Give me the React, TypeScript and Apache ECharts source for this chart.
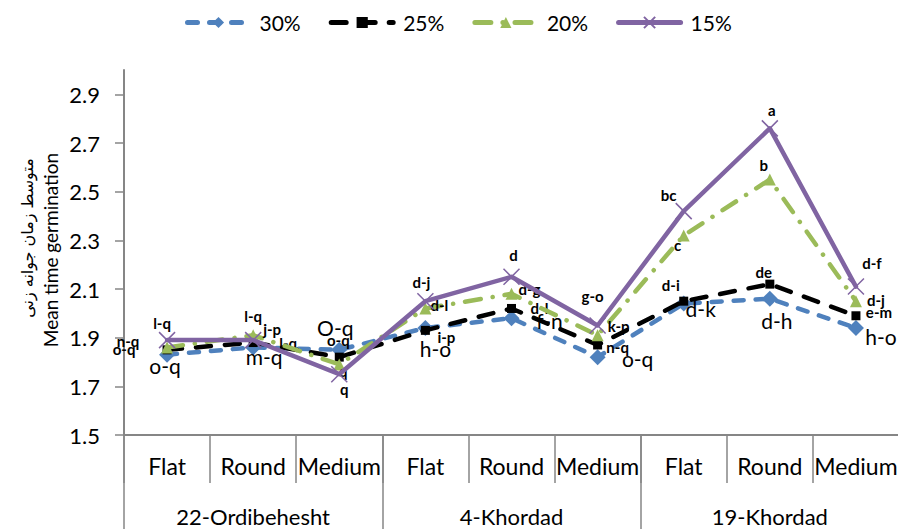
import React, { useEffect, useRef } from "react";
import * as echarts from "echarts";

// ---------- data ----------
const categories = ["Flat", "Round", "Medium", "Flat", "Round", "Medium", "Flat", "Round", "Medium"];
const groups = ["22-Ordibehesht", "4-Khordad", "19-Khordad"];
const yTicks = [1.5, 1.7, 1.9, 2.1, 2.3, 2.5, 2.7, 2.9];
const seriesNames = ["30%", "25%", "20%", "15%"];

const values30 = [1.83, 1.86, 1.85, 1.94, 1.98, 1.82, 2.04, 2.06, 1.94];
const values25 = [1.85, 1.88, 1.82, 1.93, 2.02, 1.87, 2.05, 2.12, 1.99];
const values20 = [1.86, 1.91, 1.79, 2.02, 2.08, 1.91, 2.32, 2.55, 2.05];
const values15 = [1.89, 1.89, 1.75, 2.05, 2.15, 1.95, 2.42, 2.76, 2.11];

const letters30 = ["o-q", "m-q", "O-q", "h-o", "f-n", "o-q", "d-k", "d-h", "h-o"];
const letters25 = ["o-q", "l-q", "o-q", "i-p", "d-l", "n-q", "d-i", "de", "e-m"];
const letters20 = ["n-q", "j-p", "q", "d-l", "d-g", "k-p", "c", "b", "d-j"];
const letters15 = ["l-q", "l-q", "q", "d-j", "d", "g-o", "bc", "a", "d-f"];

// ---------- label layout (offset from marker centre, px) ----------
const offsets30: number[][] = [[-2, 11], [11, 9], [-4, -22], [10, 21], [38, 2], [40, 1], [17, 5], [7, 22], [25, 9]];
const offsets25: number[][] = [[-43, -1], [35, 0], [-1, -17], [21, 7], [28, 0], [20, 2], [-13, -16], [-6, -12], [23, -4]];
const offsets20: number[][] = [[-39, -6], [19, -6], [4, 7], [14, -3], [18, -5], [21, -9], [-6, 10], [-6, -15], [20, -1]];
const offsets15: number[][] = [[-5, -17], [0, -24], [5, 15], [-4, -19], [2, -22], [-5, -30], [-15, -16], [2, -18], [16, -24]];

const BLUE = "#4F81BD";
const BLACK = "#000000";
const GREEN = "#9BBB59";
const PURPLE = "#8064A2";
const AXIS = "#868686";
const FONT = "Lato, 'Open Sans', sans-serif";

function buildData(values: number[], letters: string[], offsets: number[][], big: boolean) {
  return values.map((v, i) => ({
    value: v,
    label: {
      show: true,
      position: "inside",
      formatter: letters[i],
      offset: offsets[i],
      color: "#000",
      fontFamily: FONT,
      fontSize: big ? 21 : 15,
      fontWeight: big ? "normal" : "bold",
    },
  }));
}

export default function App() {
  const ref = useRef<HTMLDivElement>(null);

  useEffect(() => {
    document.body.style.margin = "0";
    if (!ref.current) return;
    const chart = echarts.init(ref.current, undefined, { renderer: "svg" });

    const option: any = {
      animation: false,
      backgroundColor: "#ffffff",
      textStyle: { fontFamily: FONT },
      legend: {
        top: 12,
        left: 185,
        padding: 0,
        itemWidth: 62,
        itemHeight: 14,
        itemGap: 28,
        data: seriesNames,
        lineStyle: { width: 5, cap: "round" },
        textStyle: { fontSize: 21, fontFamily: FONT, color: "#000", padding: [0, 0, 0, 5] },
      },
      grid: {
        left: 124,
        right: -1,
        top: 70,
        bottom: 94,
        containLabel: false,
        outerBoundsMode: "none",
      },
      xAxis: [
        {
          type: "category",
          data: categories,
          position: "bottom",
          boundaryGap: true,
          axisLine: { show: true, lineStyle: { color: AXIS, width: 2 } },
          axisTick: { show: true, interval: 0, length: 48, lineStyle: { color: AXIS, width: 1.5 } },
          axisLabel: {
            interval: 0,
            margin: 31,
            verticalAlign: "middle",
            color: "#000",
            fontSize: 23,
            fontFamily: FONT,
          },
          splitLine: { show: false },
        },
        {
          type: "category",
          data: groups,
          position: "bottom",
          boundaryGap: true,
          axisLine: { show: false },
          axisTick: { show: true, interval: 0, length: 94, lineStyle: { color: AXIS, width: 1.5 } },
          axisLabel: {
            interval: 0,
            margin: 81,
            verticalAlign: "middle",
            color: "#000",
            fontSize: 22,
            fontFamily: FONT,
          },
          splitLine: { show: false },
        },
      ],
      yAxis: {
        type: "value",
        min: 1.5,
        max: 3.0,
        axisLine: { show: true, lineStyle: { color: AXIS, width: 2 } },
        axisTick: { show: true, length: 9, customValues: yTicks, lineStyle: { color: AXIS, width: 1.5 } },
        axisLabel: {
          customValues: yTicks,
          margin: 24,
          color: "#000",
          fontSize: 22,
          fontFamily: FONT,
          formatter: (v: number) => v.toFixed(1),
        },
        splitLine: { show: false },
      },
      graphic: [
        {
          type: "text",
          x: 50,
          y: 250,
          rotation: Math.PI / 2,
          style: {
            text: "Mean time germination",
            fontSize: 19,
            fontFamily: FONT,
            fill: "#000",
            align: "center",
            verticalAlign: "middle",
          },
        },
        {
          type: "text",
          x: 27,
          y: 238,
          rotation: Math.PI / 2,
          style: {
            text: "متوسط زمان جوانه زنی",
            fontSize: 16,
            fontFamily: "'DejaVu Sans', sans-serif",
            fill: "#000",
            align: "center",
            verticalAlign: "middle",
          },
        },
      ],
      series: [
        {
          name: "30%",
          type: "line",
          xAxisIndex: 0,
          data: buildData(values30, letters30, offsets30, true),
          symbol: "diamond",
          symbolSize: 16,
          itemStyle: { color: BLUE },
          lineStyle: { color: BLUE, width: 4.5, type: [10, 12], cap: "round", join: "round" },
          z: 2,
        },
        {
          name: "25%",
          type: "line",
          xAxisIndex: 0,
          data: buildData(values25, letters25, offsets25, false),
          symbol: "rect",
          symbolSize: 9,
          itemStyle: { color: BLACK },
          lineStyle: { color: BLACK, width: 4.5, type: [15, 14], cap: "round", join: "round" },
          z: 3,
        },
        {
          name: "20%",
          type: "line",
          xAxisIndex: 0,
          data: buildData(values20, letters20, offsets20, false),
          symbol: "triangle",
          symbolSize: 12,
          itemStyle: { color: GREEN },
          lineStyle: { color: GREEN, width: 4.5, type: [16, 12, 0.1, 12], cap: "round", join: "round" },
          z: 4,
        },
        {
          name: "15%",
          type: "line",
          xAxisIndex: 0,
          data: buildData(values15, letters15, offsets15, false),
          symbol: "path://M0,0L16,16M16,0L0,16",
          symbolSize: 16,
          itemStyle: { color: PURPLE, borderColor: PURPLE, borderWidth: 1.5 },
          lineStyle: { color: PURPLE, width: 4.5, type: "solid", cap: "round", join: "round" },
          z: 5,
        },
      ],
    };

    chart.setOption(option);
    return () => {
      chart.dispose();
    };
  }, []);

  return <div ref={ref} style={{ width: 898, height: 529 }} />;
}
